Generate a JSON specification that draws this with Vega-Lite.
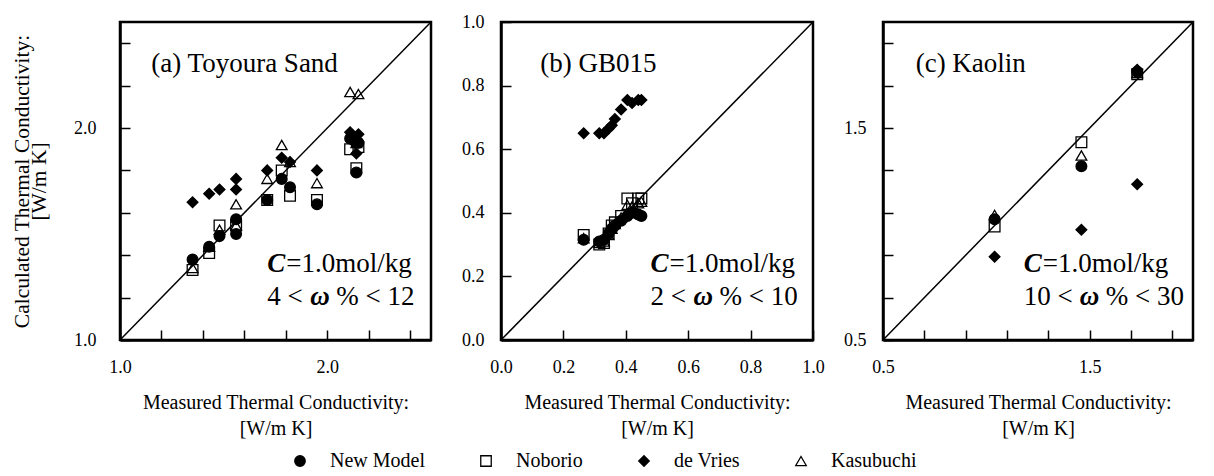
{
  "$schema": "https://vega.github.io/schema/vega-lite/v6.json",
  "background": "white",
  "padding": {"left": 10, "top": 11, "right": 5, "bottom": 2},
  "datasets": {
    "pts": [
      {"panel": "a", "model": "New Model", "measured": 1.35, "calculated": 1.38},
      {"panel": "a", "model": "New Model", "measured": 1.43, "calculated": 1.44},
      {"panel": "a", "model": "New Model", "measured": 1.48, "calculated": 1.49},
      {"panel": "a", "model": "New Model", "measured": 1.56, "calculated": 1.57},
      {"panel": "a", "model": "New Model", "measured": 1.56, "calculated": 1.50},
      {"panel": "a", "model": "New Model", "measured": 1.71, "calculated": 1.66},
      {"panel": "a", "model": "New Model", "measured": 1.78, "calculated": 1.76},
      {"panel": "a", "model": "New Model", "measured": 1.82, "calculated": 1.72},
      {"panel": "a", "model": "New Model", "measured": 1.95, "calculated": 1.64},
      {"panel": "a", "model": "New Model", "measured": 2.11, "calculated": 1.95},
      {"panel": "a", "model": "New Model", "measured": 2.15, "calculated": 1.93},
      {"panel": "a", "model": "New Model", "measured": 2.14, "calculated": 1.79},
      {"panel": "a", "model": "Noborio", "measured": 1.35, "calculated": 1.33},
      {"panel": "a", "model": "Noborio", "measured": 1.43, "calculated": 1.41},
      {"panel": "a", "model": "Noborio", "measured": 1.48, "calculated": 1.54},
      {"panel": "a", "model": "Noborio", "measured": 1.56, "calculated": 1.54},
      {"panel": "a", "model": "Noborio", "measured": 1.71, "calculated": 1.66},
      {"panel": "a", "model": "Noborio", "measured": 1.78, "calculated": 1.80},
      {"panel": "a", "model": "Noborio", "measured": 1.82, "calculated": 1.68},
      {"panel": "a", "model": "Noborio", "measured": 1.95, "calculated": 1.66},
      {"panel": "a", "model": "Noborio", "measured": 2.11, "calculated": 1.90},
      {"panel": "a", "model": "Noborio", "measured": 2.15, "calculated": 1.91},
      {"panel": "a", "model": "Noborio", "measured": 2.14, "calculated": 1.81},
      {"panel": "a", "model": "de Vries", "measured": 1.35, "calculated": 1.65},
      {"panel": "a", "model": "de Vries", "measured": 1.43, "calculated": 1.69},
      {"panel": "a", "model": "de Vries", "measured": 1.48, "calculated": 1.71},
      {"panel": "a", "model": "de Vries", "measured": 1.56, "calculated": 1.76},
      {"panel": "a", "model": "de Vries", "measured": 1.56, "calculated": 1.71},
      {"panel": "a", "model": "de Vries", "measured": 1.71, "calculated": 1.80},
      {"panel": "a", "model": "de Vries", "measured": 1.78, "calculated": 1.86},
      {"panel": "a", "model": "de Vries", "measured": 1.82, "calculated": 1.84},
      {"panel": "a", "model": "de Vries", "measured": 1.95, "calculated": 1.80},
      {"panel": "a", "model": "de Vries", "measured": 2.11, "calculated": 1.98},
      {"panel": "a", "model": "de Vries", "measured": 2.15, "calculated": 1.97},
      {"panel": "a", "model": "de Vries", "measured": 2.14, "calculated": 1.88},
      {"panel": "a", "model": "de Vries", "measured": 2.13, "calculated": 1.93},
      {"panel": "a", "model": "Kasubuchi", "measured": 1.35, "calculated": 1.34},
      {"panel": "a", "model": "Kasubuchi", "measured": 1.43, "calculated": 1.44},
      {"panel": "a", "model": "Kasubuchi", "measured": 1.48, "calculated": 1.52},
      {"panel": "a", "model": "Kasubuchi", "measured": 1.56, "calculated": 1.64},
      {"panel": "a", "model": "Kasubuchi", "measured": 1.56, "calculated": 1.54},
      {"panel": "a", "model": "Kasubuchi", "measured": 1.71, "calculated": 1.76},
      {"panel": "a", "model": "Kasubuchi", "measured": 1.78, "calculated": 1.92},
      {"panel": "a", "model": "Kasubuchi", "measured": 1.82, "calculated": 1.84},
      {"panel": "a", "model": "Kasubuchi", "measured": 1.95, "calculated": 1.74},
      {"panel": "a", "model": "Kasubuchi", "measured": 2.11, "calculated": 2.17},
      {"panel": "a", "model": "Kasubuchi", "measured": 2.15, "calculated": 2.16},
      {"panel": "a", "model": "Kasubuchi", "measured": 2.14, "calculated": 1.93},

      {"panel": "b", "model": "New Model", "measured": 0.265, "calculated": 0.315},
      {"panel": "b", "model": "New Model", "measured": 0.315, "calculated": 0.31},
      {"panel": "b", "model": "New Model", "measured": 0.33, "calculated": 0.315},
      {"panel": "b", "model": "New Model", "measured": 0.345, "calculated": 0.335},
      {"panel": "b", "model": "New Model", "measured": 0.355, "calculated": 0.35},
      {"panel": "b", "model": "New Model", "measured": 0.365, "calculated": 0.36},
      {"panel": "b", "model": "New Model", "measured": 0.385, "calculated": 0.375},
      {"panel": "b", "model": "New Model", "measured": 0.405, "calculated": 0.39},
      {"panel": "b", "model": "New Model", "measured": 0.42, "calculated": 0.40},
      {"panel": "b", "model": "New Model", "measured": 0.44, "calculated": 0.395},
      {"panel": "b", "model": "New Model", "measured": 0.45, "calculated": 0.39},
      {"panel": "b", "model": "Noborio", "measured": 0.265, "calculated": 0.33},
      {"panel": "b", "model": "Noborio", "measured": 0.315, "calculated": 0.30},
      {"panel": "b", "model": "Noborio", "measured": 0.33, "calculated": 0.305},
      {"panel": "b", "model": "Noborio", "measured": 0.345, "calculated": 0.335},
      {"panel": "b", "model": "Noborio", "measured": 0.355, "calculated": 0.36},
      {"panel": "b", "model": "Noborio", "measured": 0.365, "calculated": 0.37},
      {"panel": "b", "model": "Noborio", "measured": 0.385, "calculated": 0.39},
      {"panel": "b", "model": "Noborio", "measured": 0.405, "calculated": 0.445},
      {"panel": "b", "model": "Noborio", "measured": 0.42, "calculated": 0.43},
      {"panel": "b", "model": "Noborio", "measured": 0.44, "calculated": 0.445},
      {"panel": "b", "model": "Noborio", "measured": 0.45, "calculated": 0.445},
      {"panel": "b", "model": "de Vries", "measured": 0.265, "calculated": 0.65},
      {"panel": "b", "model": "de Vries", "measured": 0.315, "calculated": 0.65},
      {"panel": "b", "model": "de Vries", "measured": 0.33, "calculated": 0.65},
      {"panel": "b", "model": "de Vries", "measured": 0.345, "calculated": 0.665},
      {"panel": "b", "model": "de Vries", "measured": 0.355, "calculated": 0.675},
      {"panel": "b", "model": "de Vries", "measured": 0.365, "calculated": 0.695},
      {"panel": "b", "model": "de Vries", "measured": 0.385, "calculated": 0.725},
      {"panel": "b", "model": "de Vries", "measured": 0.405, "calculated": 0.755},
      {"panel": "b", "model": "de Vries", "measured": 0.42, "calculated": 0.745},
      {"panel": "b", "model": "de Vries", "measured": 0.44, "calculated": 0.755},
      {"panel": "b", "model": "de Vries", "measured": 0.45, "calculated": 0.755},
      {"panel": "b", "model": "Kasubuchi", "measured": 0.265, "calculated": 0.32},
      {"panel": "b", "model": "Kasubuchi", "measured": 0.315, "calculated": 0.305},
      {"panel": "b", "model": "Kasubuchi", "measured": 0.33, "calculated": 0.31},
      {"panel": "b", "model": "Kasubuchi", "measured": 0.345, "calculated": 0.33},
      {"panel": "b", "model": "Kasubuchi", "measured": 0.355, "calculated": 0.35},
      {"panel": "b", "model": "Kasubuchi", "measured": 0.365, "calculated": 0.365},
      {"panel": "b", "model": "Kasubuchi", "measured": 0.385, "calculated": 0.385},
      {"panel": "b", "model": "Kasubuchi", "measured": 0.405, "calculated": 0.425},
      {"panel": "b", "model": "Kasubuchi", "measured": 0.42, "calculated": 0.42},
      {"panel": "b", "model": "Kasubuchi", "measured": 0.44, "calculated": 0.43},
      {"panel": "b", "model": "Kasubuchi", "measured": 0.45, "calculated": 0.435},

      {"panel": "c", "model": "New Model", "measured": 1.04, "calculated": 1.07},
      {"panel": "c", "model": "New Model", "measured": 1.46, "calculated": 1.32},
      {"panel": "c", "model": "New Model", "measured": 1.73, "calculated": 1.765},
      {"panel": "c", "model": "Noborio", "measured": 1.04, "calculated": 1.035},
      {"panel": "c", "model": "Noborio", "measured": 1.46, "calculated": 1.433},
      {"panel": "c", "model": "Noborio", "measured": 1.73, "calculated": 1.754},
      {"panel": "c", "model": "de Vries", "measured": 1.04, "calculated": 0.893},
      {"panel": "c", "model": "de Vries", "measured": 1.46, "calculated": 1.02},
      {"panel": "c", "model": "de Vries", "measured": 1.73, "calculated": 1.235},
      {"panel": "c", "model": "de Vries", "measured": 1.73, "calculated": 1.775},
      {"panel": "c", "model": "Kasubuchi", "measured": 1.04, "calculated": 1.09},
      {"panel": "c", "model": "Kasubuchi", "measured": 1.46, "calculated": 1.37},
      {"panel": "c", "model": "Kasubuchi", "measured": 1.73, "calculated": 1.76}
    ]
  },
  "spacing": 70,
  "bounds": "flush",
  "hconcat": [
    {
      "width": 311,
      "height": 318,
      "layer": [
        {
          "data": {"name": "pts"},
          "transform": [{"filter": "datum.panel === 'a'"}],
          "mark": {"type": "point", "filled": false, "color": "black", "strokeWidth": 1.3, "size": 115, "opacity": 1},
          "encoding": {
            "x": {"field": "measured", "type": "quantitative",
              "scale": {"domain": [1.0, 2.5], "nice": false, "zero": false},
              "axis": {"values": [1.0, 1.1, 1.2, 1.3, 1.4, 1.5, 1.6, 1.7, 1.8, 1.9, 2.0, 2.1, 2.2, 2.3, 2.4, 2.5],
                "labelExpr": "abs(datum.value*2-round(datum.value*2))<0.001 ? format(datum.value,'.1f') : ''",
                "labelOverlap": false, "labelFlush": false, "grid": false,
                "ticks": true, "tickSize": -10, "labelPadding": 28,
                "title": ["Measured Thermal Conductivity:", "[W/m K]"]}},
            "y": {"field": "calculated", "type": "quantitative",
              "scale": {"domain": [1.0, 2.5], "nice": false, "zero": false},
              "axis": {"values": [1.0, 1.1, 1.2, 1.3, 1.4, 1.5, 1.6, 1.7, 1.8, 1.9, 2.0, 2.1, 2.2, 2.3, 2.4, 2.5],
                "labelExpr": "abs(datum.value*2-round(datum.value*2))<0.001 ? format(datum.value,'.1f') : ''",
                "labelOverlap": false, "labelFlush": false, "grid": false,
                "ticks": true, "tickSize": -10, "labelPadding": 34,
                "title": ["Calculated Thermal Conductivity:", "[W/m K]"],
                "titleFontSize": 21.5, "titleLineHeight": 17, "titlePadding": 23}},
            "shape": {"field": "model", "type": "nominal",
              "scale": {"domain": ["New Model", "Noborio", "de Vries", "Kasubuchi"], "range": ["circle", "square", "diamond", "triangle-up"]},
              "legend": {"orient": "none", "direction": "horizontal", "legendX": 170, "legendY": 429, "title": null}},
            "fill": {"field": "model", "type": "nominal",
              "scale": {"domain": ["New Model", "Noborio", "de Vries", "Kasubuchi"], "range": ["black", "transparent", "black", "transparent"]},
              "legend": {"orient": "none", "direction": "horizontal", "legendX": 170, "legendY": 429, "title": null}},
            "stroke": {"field": "model", "type": "nominal",
              "scale": {"domain": ["New Model", "Noborio", "de Vries", "Kasubuchi"], "range": ["black", "black", "black", "black"]},
              "legend": {"orient": "none", "direction": "horizontal", "legendX": 170, "legendY": 429, "title": null}}
          }
        },
        {
          "data": {"values": [{}]},
          "mark": {"type": "rule", "color": "black", "strokeWidth": 1.5},
          "encoding": {"x": {"datum": 1.0, "type": "quantitative"}, "y": {"datum": 1.0, "type": "quantitative"}, "x2": {"datum": 2.5}, "y2": {"datum": 2.5}}
        },
        {
          "data": {"values": [{}]},
          "mark": {"type": "text", "align": "left", "baseline": "middle", "fontSize": 27, "color": "black"},
          "encoding": {"x": {"datum": 1.151, "type": "quantitative"}, "y": {"datum": 2.30, "type": "quantitative"}, "text": {"value": "(a) Toyoura Sand"}}
        },
        {
          "data": {"values": [{}]},
          "mark": {"type": "text", "align": "left", "baseline": "middle", "fontSize": 27, "fontStyle": "italic", "fontWeight": "bold", "color": "black"},
          "encoding": {"x": {"datum": 1.71, "type": "quantitative"}, "y": {"datum": 1.36, "type": "quantitative"}, "text": {"value": "C"}}
        },
        {
          "data": {"values": [{}]},
          "mark": {"type": "text", "align": "left", "baseline": "middle", "fontSize": 27, "dx": 19, "color": "black"},
          "encoding": {"x": {"datum": 1.71, "type": "quantitative"}, "y": {"datum": 1.36, "type": "quantitative"}, "text": {"value": "=1.0mol/kg"}}
        },
        {
          "data": {"values": [{}]},
          "mark": {"type": "text", "align": "left", "baseline": "middle", "fontSize": 27, "color": "black"},
          "encoding": {"x": {"datum": 1.71, "type": "quantitative"}, "y": {"datum": 1.205, "type": "quantitative"}, "text": {"value": "4 <"}}
        },
        {
          "data": {"values": [{}]},
          "mark": {"type": "text", "align": "left", "baseline": "middle", "fontSize": 27, "fontStyle": "italic", "fontWeight": "bold", "dx": 43, "color": "black"},
          "encoding": {"x": {"datum": 1.71, "type": "quantitative"}, "y": {"datum": 1.205, "type": "quantitative"}, "text": {"value": "ω"}}
        },
        {
          "data": {"values": [{}]},
          "mark": {"type": "text", "align": "left", "baseline": "middle", "fontSize": 27, "dx": 69, "color": "black"},
          "encoding": {"x": {"datum": 1.71, "type": "quantitative"}, "y": {"datum": 1.205, "type": "quantitative"}, "text": {"value": "% < 12"}}
        }
      ]
    },
    {
      "width": 312,
      "height": 318,
      "layer": [
        {
          "data": {"name": "pts"},
          "transform": [{"filter": "datum.panel === 'b'"}],
          "mark": {"type": "point", "filled": false, "color": "black", "strokeWidth": 1.3, "size": 115, "opacity": 1},
          "encoding": {
            "x": {"field": "measured", "type": "quantitative",
              "scale": {"domain": [0.0, 1.0], "nice": false, "zero": false},
              "axis": {"values": [0.0, 0.1, 0.2, 0.3, 0.4, 0.5, 0.6, 0.7, 0.8, 0.9, 1.0],
                "labelExpr": "abs(datum.value*5-round(datum.value*5))<0.001 ? format(datum.value,'.1f') : ''",
                "labelOverlap": false, "labelFlush": false, "grid": false,
                "ticks": true, "tickSize": -10, "labelPadding": 28,
                "title": ["Measured Thermal Conductivity:", "[W/m K]"]}},
            "y": {"field": "calculated", "type": "quantitative",
              "scale": {"domain": [0.0, 1.0], "nice": false, "zero": false},
              "axis": {"values": [0.0, 0.1, 0.2, 0.3, 0.4, 0.5, 0.6, 0.7, 0.8, 0.9, 1.0],
                "labelExpr": "abs(datum.value*5-round(datum.value*5))<0.001 ? format(datum.value,'.1f') : ''",
                "labelOverlap": false, "labelFlush": false, "grid": false,
                "ticks": true, "tickSize": -10, "labelPadding": 27,
                "title": null}},
            "shape": {"field": "model", "type": "nominal",
              "scale": {"domain": ["New Model", "Noborio", "de Vries", "Kasubuchi"], "range": ["circle", "square", "diamond", "triangle-up"]},
              "legend": {"orient": "none", "direction": "horizontal", "legendX": 170, "legendY": 429, "title": null}},
            "fill": {"field": "model", "type": "nominal",
              "scale": {"domain": ["New Model", "Noborio", "de Vries", "Kasubuchi"], "range": ["black", "transparent", "black", "transparent"]},
              "legend": {"orient": "none", "direction": "horizontal", "legendX": 170, "legendY": 429, "title": null}},
            "stroke": {"field": "model", "type": "nominal",
              "scale": {"domain": ["New Model", "Noborio", "de Vries", "Kasubuchi"], "range": ["black", "black", "black", "black"]},
              "legend": {"orient": "none", "direction": "horizontal", "legendX": 170, "legendY": 429, "title": null}}
          }
        },
        {
          "data": {"values": [{}]},
          "mark": {"type": "rule", "color": "black", "strokeWidth": 1.5},
          "encoding": {"x": {"datum": 0.0, "type": "quantitative"}, "y": {"datum": 0.0, "type": "quantitative"}, "x2": {"datum": 1.0}, "y2": {"datum": 1.0}}
        },
        {
          "data": {"values": [{}]},
          "mark": {"type": "text", "align": "left", "baseline": "middle", "fontSize": 27, "color": "black"},
          "encoding": {"x": {"datum": 0.126, "type": "quantitative"}, "y": {"datum": 0.867, "type": "quantitative"}, "text": {"value": "(b) GB015"}}
        },
        {
          "data": {"values": [{}]},
          "mark": {"type": "text", "align": "left", "baseline": "middle", "fontSize": 27, "fontStyle": "italic", "fontWeight": "bold", "color": "black"},
          "encoding": {"x": {"datum": 0.479, "type": "quantitative"}, "y": {"datum": 0.24, "type": "quantitative"}, "text": {"value": "C"}}
        },
        {
          "data": {"values": [{}]},
          "mark": {"type": "text", "align": "left", "baseline": "middle", "fontSize": 27, "dx": 19, "color": "black"},
          "encoding": {"x": {"datum": 0.479, "type": "quantitative"}, "y": {"datum": 0.24, "type": "quantitative"}, "text": {"value": "=1.0mol/kg"}}
        },
        {
          "data": {"values": [{}]},
          "mark": {"type": "text", "align": "left", "baseline": "middle", "fontSize": 27, "color": "black"},
          "encoding": {"x": {"datum": 0.479, "type": "quantitative"}, "y": {"datum": 0.136, "type": "quantitative"}, "text": {"value": "2 <"}}
        },
        {
          "data": {"values": [{}]},
          "mark": {"type": "text", "align": "left", "baseline": "middle", "fontSize": 27, "fontStyle": "italic", "fontWeight": "bold", "dx": 43, "color": "black"},
          "encoding": {"x": {"datum": 0.479, "type": "quantitative"}, "y": {"datum": 0.136, "type": "quantitative"}, "text": {"value": "ω"}}
        },
        {
          "data": {"values": [{}]},
          "mark": {"type": "text", "align": "left", "baseline": "middle", "fontSize": 27, "dx": 69, "color": "black"},
          "encoding": {"x": {"datum": 0.479, "type": "quantitative"}, "y": {"datum": 0.136, "type": "quantitative"}, "text": {"value": "% < 10"}}
        }
      ]
    },
    {
      "width": 310,
      "height": 318,
      "layer": [
        {
          "data": {"name": "pts"},
          "transform": [{"filter": "datum.panel === 'c'"}],
          "mark": {"type": "point", "filled": false, "color": "black", "strokeWidth": 1.3, "size": 115, "opacity": 1},
          "encoding": {
            "x": {"field": "measured", "type": "quantitative",
              "scale": {"domain": [0.5, 2.0], "nice": false, "zero": false},
              "axis": {"values": [0.5, 0.6, 0.7, 0.8, 0.9, 1.0, 1.1, 1.2, 1.3, 1.4, 1.5, 1.6, 1.7, 1.8, 1.9, 2.0],
                "labelExpr": "abs(datum.value*2-round(datum.value*2))<0.001 ? format(datum.value,'.1f') : ''",
                "labelOverlap": false, "labelFlush": false, "grid": false,
                "ticks": true, "tickSize": -10, "labelPadding": 28,
                "title": ["Measured Thermal Conductivity:", "[W/m K]"]}},
            "y": {"field": "calculated", "type": "quantitative",
              "scale": {"domain": [0.5, 2.0], "nice": false, "zero": false},
              "axis": {"values": [0.5, 0.6, 0.7, 0.8, 0.9, 1.0, 1.1, 1.2, 1.3, 1.4, 1.5, 1.6, 1.7, 1.8, 1.9, 2.0],
                "labelExpr": "abs(datum.value*2-round(datum.value*2))<0.001 ? format(datum.value,'.1f') : ''",
                "labelOverlap": false, "labelFlush": false, "grid": false,
                "ticks": true, "tickSize": -10, "labelPadding": 27,
                "title": null}},
            "shape": {"field": "model", "type": "nominal",
              "scale": {"domain": ["New Model", "Noborio", "de Vries", "Kasubuchi"], "range": ["circle", "square", "diamond", "triangle-up"]},
              "legend": {"orient": "none", "direction": "horizontal", "legendX": 170, "legendY": 429, "title": null}},
            "fill": {"field": "model", "type": "nominal",
              "scale": {"domain": ["New Model", "Noborio", "de Vries", "Kasubuchi"], "range": ["black", "transparent", "black", "transparent"]},
              "legend": {"orient": "none", "direction": "horizontal", "legendX": 170, "legendY": 429, "title": null}},
            "stroke": {"field": "model", "type": "nominal",
              "scale": {"domain": ["New Model", "Noborio", "de Vries", "Kasubuchi"], "range": ["black", "black", "black", "black"]},
              "legend": {"orient": "none", "direction": "horizontal", "legendX": 170, "legendY": 429, "title": null}}
          }
        },
        {
          "data": {"values": [{}]},
          "mark": {"type": "rule", "color": "black", "strokeWidth": 1.5},
          "encoding": {"x": {"datum": 0.5, "type": "quantitative"}, "y": {"datum": 0.5, "type": "quantitative"}, "x2": {"datum": 2.0}, "y2": {"datum": 2.0}}
        },
        {
          "data": {"values": [{}]},
          "mark": {"type": "text", "align": "left", "baseline": "middle", "fontSize": 27, "color": "black"},
          "encoding": {"x": {"datum": 0.658, "type": "quantitative"}, "y": {"datum": 1.80, "type": "quantitative"}, "text": {"value": "(c) Kaolin"}}
        },
        {
          "data": {"values": [{}]},
          "mark": {"type": "text", "align": "left", "baseline": "middle", "fontSize": 27, "fontStyle": "italic", "fontWeight": "bold", "color": "black"},
          "encoding": {"x": {"datum": 1.181, "type": "quantitative"}, "y": {"datum": 0.86, "type": "quantitative"}, "text": {"value": "C"}}
        },
        {
          "data": {"values": [{}]},
          "mark": {"type": "text", "align": "left", "baseline": "middle", "fontSize": 27, "dx": 19, "color": "black"},
          "encoding": {"x": {"datum": 1.181, "type": "quantitative"}, "y": {"datum": 0.86, "type": "quantitative"}, "text": {"value": "=1.0mol/kg"}}
        },
        {
          "data": {"values": [{}]},
          "mark": {"type": "text", "align": "left", "baseline": "middle", "fontSize": 27, "color": "black"},
          "encoding": {"x": {"datum": 1.181, "type": "quantitative"}, "y": {"datum": 0.705, "type": "quantitative"}, "text": {"value": "10 <"}}
        },
        {
          "data": {"values": [{}]},
          "mark": {"type": "text", "align": "left", "baseline": "middle", "fontSize": 27, "fontStyle": "italic", "fontWeight": "bold", "dx": 56, "color": "black"},
          "encoding": {"x": {"datum": 1.181, "type": "quantitative"}, "y": {"datum": 0.705, "type": "quantitative"}, "text": {"value": "ω"}}
        },
        {
          "data": {"values": [{}]},
          "mark": {"type": "text", "align": "left", "baseline": "middle", "fontSize": 27, "dx": 82, "color": "black"},
          "encoding": {"x": {"datum": 1.181, "type": "quantitative"}, "y": {"datum": 0.705, "type": "quantitative"}, "text": {"value": "% < 30"}}
        }
      ]
    }
  ],
  "config": {
    "font": "Liberation Serif",
    "view": {"stroke": "black", "strokeWidth": 2.5},
    "axis": {
      "domainColor": "black", "domainWidth": 2.5,
      "ticks": true, "tickSize": -10, "tickColor": "black", "tickWidth": 1.5,
      "labelColor": "black", "labelFontSize": 18, "labelFlush": false, "labelOverlap": false, "labelFont": "Liberation Serif",
      "titleColor": "black", "titleFontSize": 20, "titleFontWeight": "normal", "titleFont": "Liberation Serif"
    },
    "axisX": {"titleY": 52, "titleBaseline": "top", "titleLineHeight": 26},
    "legend": {
      "labelFontSize": 20, "labelColor": "black", "labelFont": "Liberation Serif",
      "symbolSize": 110, "symbolStrokeWidth": 1.3, "symbolStrokeColor": "black", "symbolOpacity": 1,
      "labelOffset": 20, "columnPadding": 51, "padding": 0
    }
  }
}
